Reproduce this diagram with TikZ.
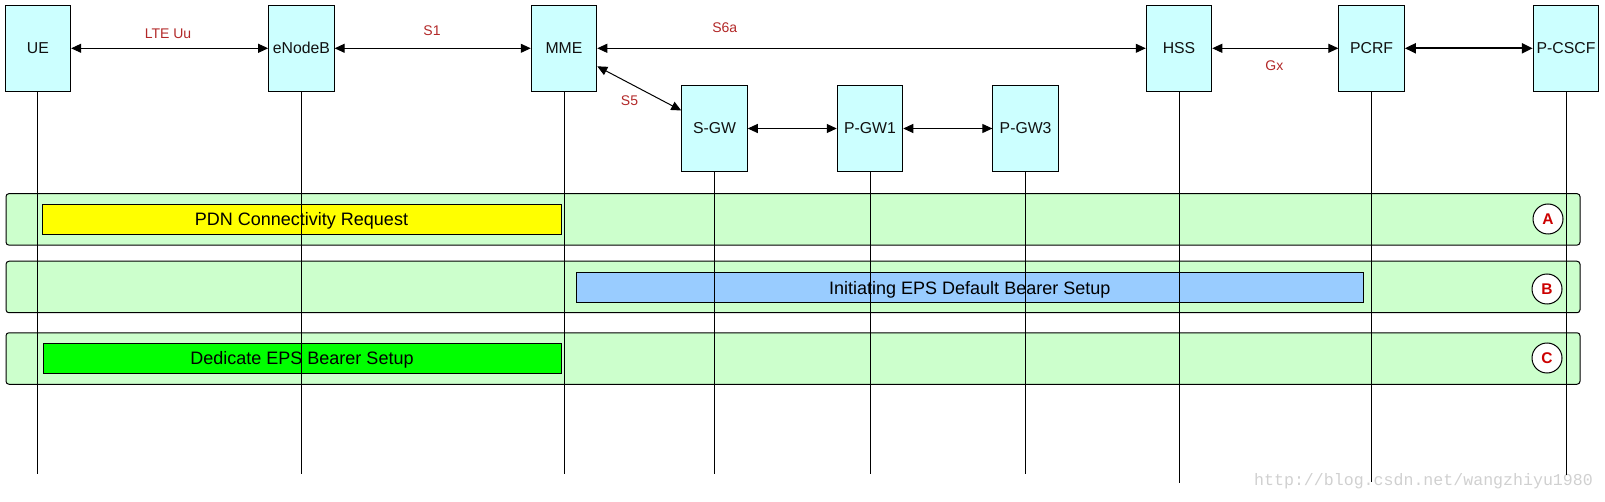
\documentclass[tikz,border=0pt]{standalone}
\usepackage{fontspec}
\setmainfont{Liberation Sans}
\newfontfamily\wmfont{Liberation Mono}
\usetikzlibrary{arrows.meta}
\definecolor{boxcyan}{HTML}{CCFFFF}
\definecolor{bandgreen}{HTML}{CCFFCC}
\definecolor{baryellow}{HTML}{FFFF00}
\definecolor{barblue}{HTML}{99CCFF}
\definecolor{bargreen}{HTML}{00FF00}
\definecolor{lblred}{HTML}{B22828}
\definecolor{circred}{HTML}{CC0000}
\definecolor{wmgray}{HTML}{D0D0D0}
\definecolor{txtblack}{HTML}{111111}
\tikzset{
 entity/.style={draw=black, line width=1pt, fill=boxcyan, minimum width=65.5pt, minimum height=86pt, inner sep=0pt, text=txtblack, font=\fontsize{15.8}{18}\selectfont},
 iflabel/.style={text=lblred, font=\fontsize{14}{16}\selectfont, inner sep=0pt},
 link/.style={line width=1pt, {Triangle[length=10pt,width=9pt]}-{Triangle[length=10pt,width=9pt]}},
 thicklink/.style={line width=2.2pt, {Triangle[length=11pt,width=10pt]}-{Triangle[length=11pt,width=10pt]}},
 lifeline/.style={line width=1pt},
 band/.style={draw=black, line width=1pt, fill=bandgreen, rounded corners=3pt, minimum width=1574pt, minimum height=51.5pt, inner sep=0pt},
 bar/.style={draw=black, line width=1pt, minimum height=30pt, inner sep=0pt, text depth=0pt, text=black, font=\fontsize{18}{20}\selectfont},
 tag/.style={circle, draw=black, line width=1pt, fill=white, minimum size=30pt, inner sep=0pt, text=circred, font=\bfseries\fontsize{15.5}{17}\selectfont},
 wm/.style={text=wmgray, inner sep=0pt, font=\wmfont\fontsize{16.6}{18}\selectfont},
}
\begin{document}
\begin{tikzpicture}[x=1pt,y=-1pt]
\useasboundingbox (0,0) rectangle (1605,502);

% entities, top row
\node[entity] (ue)   at (37.9,48.3)   {UE};
\node[entity] (enb)  at (301.4,48.3)  {eNodeB};
\node[entity] (mme)  at (564,48.3)    {MME};
\node[entity] (hss)  at (1179,48.3)   {HSS};
\node[entity] (pcrf) at (1371.6,48.3) {PCRF};
\node[entity] (pcscf) at (1566,48.3)  {P-CSCF};
% entities, second row
\node[entity] (sgw)  at (714.5,128.5) {S-GW};
\node[entity] (pgw1) at (870,128.5)   {P-GW1};
\node[entity] (pgw3) at (1025.6,128.5) {P-GW3};

% interfaces
\draw[link] (ue.east) -- (enb.west);
\draw[link] (enb.east) -- (mme.west);
\draw[link] (mme.east) -- (hss.west);
\draw[link] (hss.east) -- (pcrf.west);
\draw[thicklink] (pcrf.east) -- (pcscf.west);
\draw[link] ([yshift=-18pt]mme.east) -- ([yshift=18pt]sgw.west);
\draw[link] (sgw.east) -- (pgw1.west);
\draw[link] (pgw1.east) -- (pgw3.west);

\node[iflabel] (lteuu) at (168,34) {LTE Uu};
\node[iflabel] (s1)    at (432,31) {S1};
\node[iflabel] (s6a)   at (724.7,27.7) {S6a};
\node[iflabel] (s5)    at (629.5,101) {S5};
\node[iflabel] (gx)    at (1274.4,65.7) {Gx};

% phase bands
\node[band] (banda) at (793,219.4) {};
\node[band] (bandb) at (793,287) {};
\node[band] (bandc) at (793,358.5) {};

\node[bar, fill=baryellow, minimum width=519pt] (pdn) at (301.5,219.3) {PDN Connectivity Request};
\node[bar, fill=barblue, minimum width=787.5pt] (init) at (969.75,287.5) {Initiating EPS Default Bearer Setup};
\node[bar, fill=bargreen, minimum width=518pt] (ded) at (302,358.3) {Dedicate EPS Bearer Setup};

\node[tag] (taga) at (1548,219) {A};
\node[tag] (tagb) at (1547,289) {B};
\node[tag] (tagc) at (1547,358) {C};

% watermark
\node[wm] (wmark) at (1423.5,481) {http://blog.csdn.net/wangzhiyu1980};

% lifelines
\coordinate (ueend)   at (37.9,474.3);
\coordinate (enbend)  at (301.4,474.3);
\coordinate (mmeend)  at (564,474.3);
\coordinate (sgwend)  at (714.5,474.3);
\coordinate (pgw1end) at (870,474.3);
\coordinate (pgw3end) at (1025.6,474.3);
\coordinate (hssend)  at (1179,482.7);
\coordinate (pcrfend) at (1371.6,482);
\coordinate (pcscfend) at (1566,475);
\foreach \n in {ue,enb,mme,sgw,pgw1,pgw3,hss,pcrf,pcscf}
  \draw[lifeline] (\n.south) -- (\n end);
\end{tikzpicture}
\end{document}
